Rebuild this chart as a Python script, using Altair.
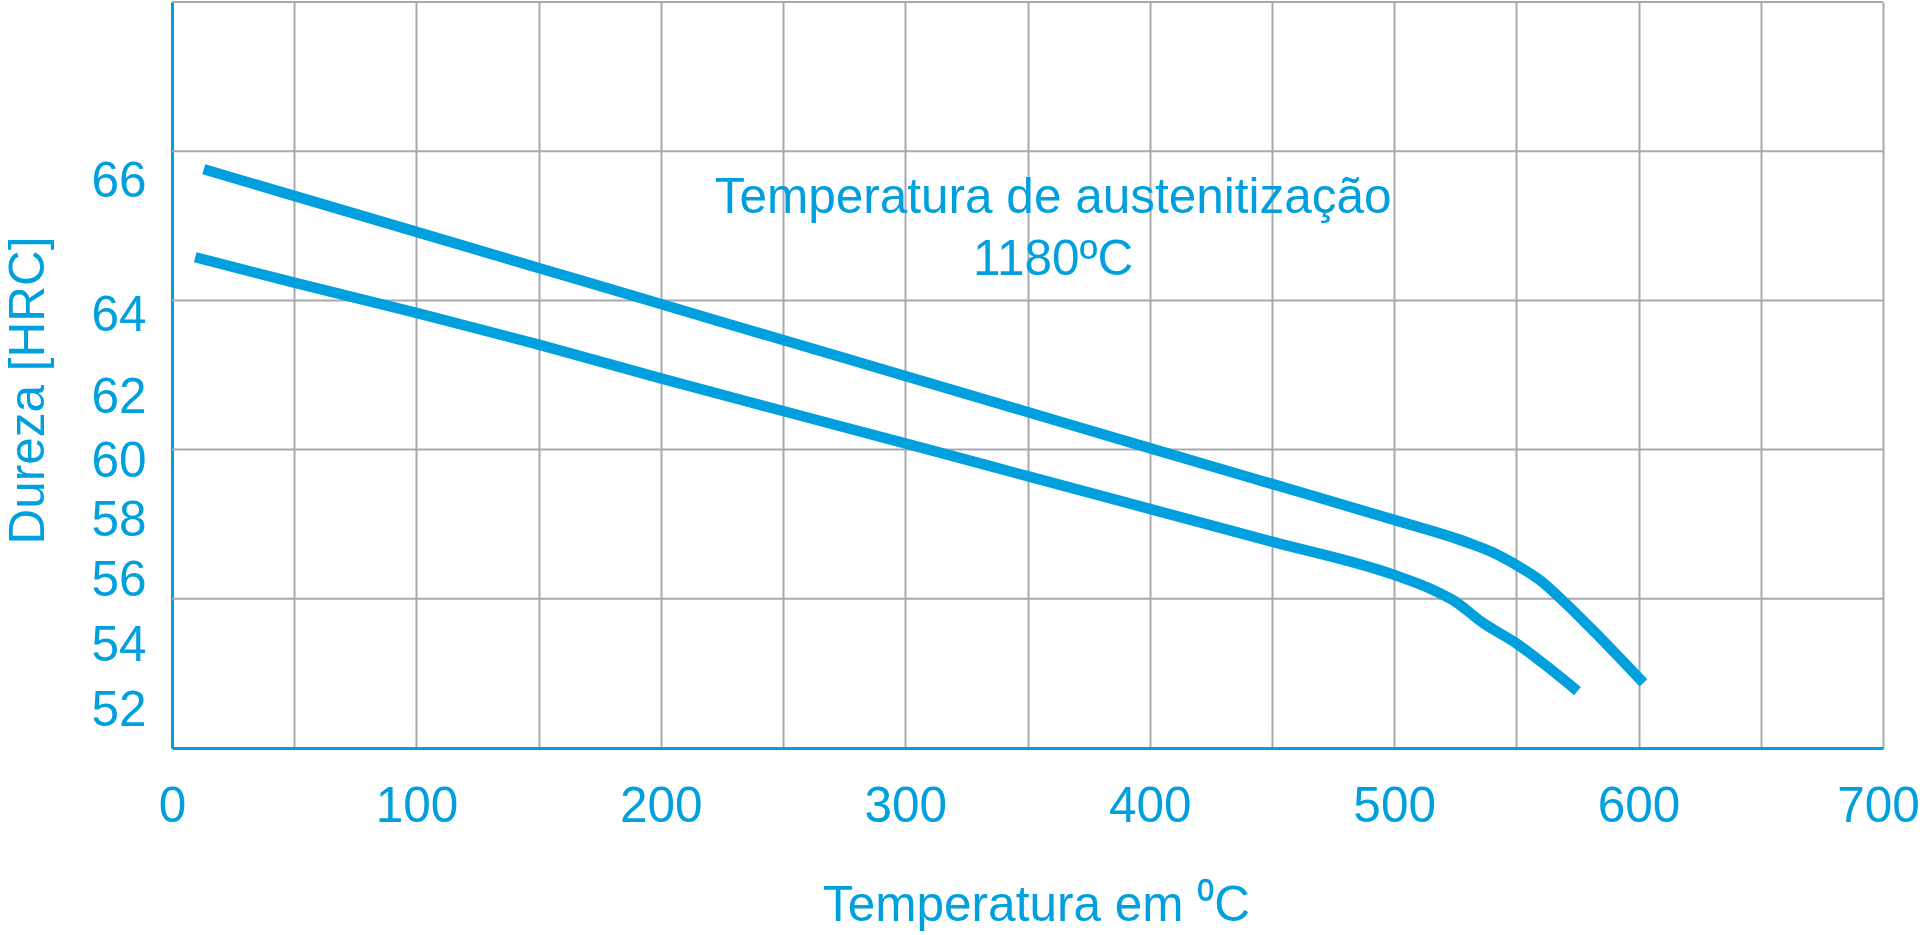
import altair as alt
import pandas as pd

BLUE = "#00A0DE"
GRID = "#A7A9AC"
FONT = "Liberation Sans"
FS = 49.5

# ---- data (temperature in °C, hardness in HRC) ----
upper_temp = [13, 50, 100, 150, 200, 250, 300, 350, 400, 450, 500, 530, 540, 550, 560, 570, 580, 602]
upper_hrc = [66.21, 65.74, 65.20, 64.66, 64.12, 63.32, 62.45, 61.45, 60.31, 59.13, 57.92,
             57.16, 56.84, 56.40, 55.88, 55.20, 54.46, 52.74]

lower_temp = [9.5, 50, 100, 150, 200, 250, 300, 350, 400, 450, 500, 516, 524, 536.5, 550, 561, 575]
lower_hrc = [64.82, 64.44, 63.98, 63.21, 62.39, 61.48, 60.46, 59.39, 58.29, 57.19, 56.07,
             55.60, 55.29, 54.58, 53.96, 53.34, 52.49]

x_ticks = list(range(0, 701, 50))          # vertical grid every 50 °C, labels every 100
y_labels = [52, 54, 56, 58, 60, 62, 64, 66]  # hardness tick labels (unevenly spaced in the original)
grid_levels = [1, 2, 3, 4, 5]               # evenly spaced horizontal grid lines

annot_text = ["Temperatura de austenitização", "1180ºC"]
annot_temp = [360.5, 360.5]
annot_hrc = [65.75, 64.82]

# piecewise hardness scale reproducing the original's uneven label spacing
hrc_domain = [50] + y_labels + [70]
hrc_range = [746, 705, 640, 575, 515.5, 456, 392.5, 310, 176.5, 0]

df = pd.DataFrame(
    {
        "temp": upper_temp + lower_temp,
        "hrc": upper_hrc + lower_hrc,
        "serie": ["upper"] * len(upper_temp) + ["lower"] * len(lower_temp),
    }
)
grid_df = pd.DataFrame({"g": grid_levels})
annot_df = pd.DataFrame({"temp": annot_temp, "hrc": annot_hrc, "txt": annot_text})

x_axis = alt.Axis(
    values=x_ticks,
    labelExpr="datum.value % 100 === 0 ? datum.label : ''",
    title="Temperatura em ⁰C",
    titleFont=FONT,
    titleFontSize=FS,
    titleFontWeight="normal",
    titleColor=BLUE,
    titleX=864,
    titleY=157,
    titleBaseline="middle",
    labelFont=FONT,
    labelFontSize=FS,
    labelColor=BLUE,
    labelPadding=34,
    labelOffset={"condition": {"test": "datum.value === 700", "value": -5}, "value": 0},
    labelFlush=False,
    labelOverlap=False,
    ticks=False,
    domainColor=BLUE,
    domainWidth=3,
    grid=True,
    gridColor=GRID,
    gridWidth=2,
)
x_scale = alt.Scale(domain=[0, 700], nice=False, zero=False)
X = alt.X("temp:Q", scale=x_scale, axis=x_axis)

hrc_scale = alt.Scale(domain=hrc_domain, range=hrc_range, nice=False, zero=False)

y_axis = alt.Axis(
    values=y_labels,
    title="Dureza [HRC]",
    titleFont=FONT,
    titleFontSize=FS,
    titleFontWeight="normal",
    titleColor=BLUE,
    titleX=-144,
    titleY=388,
    titleBaseline="middle",
    labelFont=FONT,
    labelFontSize=FS,
    labelColor=BLUE,
    labelPadding=26,
    labelOffset=3,
    labelOverlap=False,
    ticks=False,
    grid=False,
    domainColor=BLUE,
    domainWidth=3,
)

grid_layer = alt.Chart(grid_df).mark_rule(color=GRID, strokeWidth=2).encode(
    y=alt.Y("g:Q", scale=alt.Scale(domain=[0, 5], nice=False, zero=False), axis=None)
)

lines = alt.Chart(df).mark_line(
    color=BLUE, strokeWidth=10.5, strokeCap="butt", interpolate="monotone"
).encode(
    x=X,
    y=alt.Y("hrc:Q", scale=hrc_scale, axis=y_axis),
    detail="serie:N",
)

annot = alt.Chart(annot_df).mark_text(
    font=FONT, fontSize=FS, color=BLUE, align="center", baseline="middle", dy=3
).encode(
    x=X,
    y=alt.Y("hrc:Q", scale=hrc_scale, axis=None),
    text="txt:N",
)

chart = (
    alt.layer(grid_layer, lines, annot)
    .resolve_scale(y="independent")
    .properties(
        width=1711,
        height=746,
        padding={"left": 172, "top": 2, "right": 37, "bottom": 187},
        autosize=alt.AutoSizeParams(type="none"),
        background="white",
    )
    .configure_view(stroke="transparent")
)

chart.save("out.html", embed_options={"renderer": "svg", "actions": False})
